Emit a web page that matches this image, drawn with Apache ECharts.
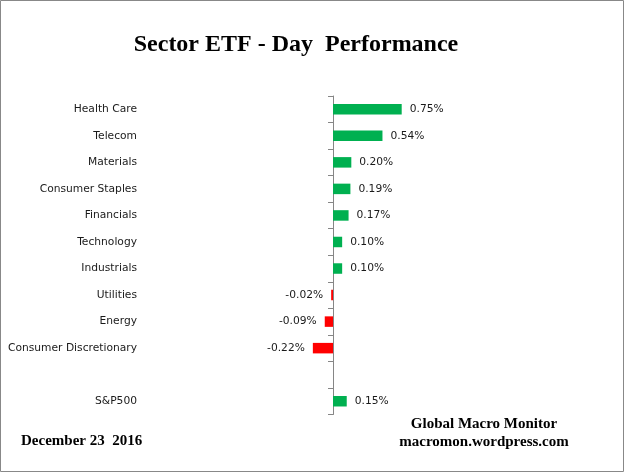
<!DOCTYPE html>
<html>
<head>
<meta charset="utf-8">
<script src="https://cdn.jsdelivr.net/npm/echarts@6/dist/echarts.min.js"></script>
<style>
html,body{margin:0;padding:0;background:#fff;}
#c{width:625px;height:473px;}
</style>
</head>
<body>
<div id="c"></div>
<script>
const categories = ['Health Care','Telecom','Materials','Consumer Staples','Financials','Technology','Industrials','Utilities','Energy','Consumer Discretionary','','S&P500'];
const values = [0.75, 0.54, 0.20, 0.19, 0.17, 0.10, 0.10, -0.02, -0.09, -0.22, null, 0.15];
const titleText = 'Sector ETF - Day  Performance';
const dateText = 'December 23  2016';
const sourceLines = ['Global Macro Monitor', 'macromon.wordpress.com'];

const chart = echarts.init(document.getElementById('c'), null, {renderer:'canvas'});
const labelFont = 'DejaVu Sans';
chart.setOption({
  animation: false,
  backgroundColor: '#fff',
  grid: {left: 241.4, width: 183.2, top: 96, height: 318.5, containLabel: false, outerBoundsMode: 'none'},
  xAxis: {
    type: 'value', min: -1, max: 1, show: false
  },
  yAxis: {
    type: 'category', data: categories, inverse: true,
    axisLine: {show: true, onZero: true, lineStyle: {color: '#868686', width: 1}},
    axisTick: {show: true, length: 5, lineStyle: {color: '#868686'}},
    axisLabel: {margin: 104.4, color: '#1a1a1a', fontFamily: labelFont, fontSize: 10.7},
    splitLine: {show: false}
  },
  series: [{
    type: 'bar',
    barWidth: 10.5,
    data: values.map(v => v === null ? null : {
      value: v,
      itemStyle: {color: v >= 0 ? '#00B050' : '#FF0000'},
      label: {position: v >= 0 ? 'right' : 'left'}
    }),
    label: {
      show: true, distance: 8, color: '#1a1a1a', fontFamily: labelFont, fontSize: 10.7,
      formatter: p => p.value.toFixed(2) + '%'
    }
  }],
  graphic: [
    {type: 'rect', shape: {x: 0.5, y: 0.5, width: 623, height: 471}, style: {fill: 'none', stroke: '#888', lineWidth: 1}, silent: true},
    {type: 'text', x: 296, y: 45, style: {text: titleText, font: 'bold 24px "Liberation Serif"', fill: '#000', textAlign: 'center', textVerticalAlign: 'middle'}},
    {type: 'text', x: 21, y: 441, style: {text: dateText, font: 'bold 15px "Liberation Serif"', fill: '#000', textAlign: 'left', textVerticalAlign: 'middle'}},
    {type: 'text', x: 484, y: 424, style: {text: sourceLines[0], font: 'bold 15px "Liberation Serif"', fill: '#000', textAlign: 'center', textVerticalAlign: 'middle'}},
    {type: 'text', x: 484, y: 442, style: {text: sourceLines[1], font: 'bold 15px "Liberation Serif"', fill: '#000', textAlign: 'center', textVerticalAlign: 'middle'}}
  ]
});
</script>
</body>
</html>
